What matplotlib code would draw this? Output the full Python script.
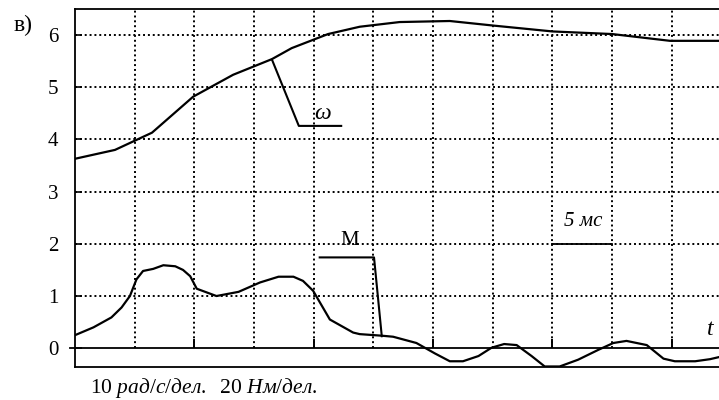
import matplotlib
matplotlib.use("Agg")
import matplotlib.pyplot as plt

plt.rcParams['font.family'] = ['Liberation Serif', 'DejaVu Serif']
plt.rcParams['mathtext.fontset'] = 'custom'
plt.rcParams['mathtext.rm'] = 'Liberation Serif'
plt.rcParams['mathtext.it'] = 'Liberation Serif:italic'

# speed omega, in divisions (10 rad/s per division), time in divisions (5 ms)
w_t = [0.0, 0.67, 1.29, 1.98, 2.65, 3.30, 3.63, 4.24, 4.77, 5.44, 6.28,
       7.03, 8.0, 9.0, 9.97, 10.79]
w_val = [3.63, 3.80, 4.13, 4.82, 5.24, 5.54, 5.75, 6.02, 6.16, 6.25, 6.27,
         6.18, 6.07, 6.02, 5.89, 5.89]

# torque M, in divisions (20 Nm per division)
m_t = [0.0, 0.31, 0.61, 0.78, 0.92, 1.03, 1.14, 1.31, 1.48, 1.68, 1.81, 1.93,
       2.04, 2.37, 2.74, 3.10, 3.41, 3.66, 3.82, 3.99, 4.27, 4.66, 4.77, 5.14,
       5.33, 5.72, 6.03, 6.28, 6.50, 6.76, 6.98, 7.19, 7.40, 7.65, 7.87, 8.12,
       8.43, 8.77, 9.02, 9.24, 9.58, 9.86, 10.05, 10.39, 10.64, 10.79]
m_val = [0.25, 0.40, 0.59, 0.78, 1.0, 1.32, 1.48, 1.52, 1.59, 1.57, 1.50, 1.38,
         1.14, 1.0, 1.08, 1.26, 1.37, 1.37, 1.29, 1.10, 0.55, 0.30, 0.27, 0.24,
         0.22, 0.10, -0.10, -0.25, -0.25, -0.15, 0.01, 0.08, 0.06, -0.15, -0.35,
         -0.35, -0.22, -0.03, 0.10, 0.14, 0.06, -0.20, -0.25, -0.25, -0.21, -0.17]

y_ticks = [0, 1, 2, 3, 4, 5, 6]
grid_x = [1, 2, 3, 4, 5, 6, 7, 8, 9, 10]
t_marks = [2, 4, 6, 8, 10]

X_MAX = 10.79

fig = plt.figure(figsize=(7.19, 4.0), dpi=100)
ax = fig.add_axes([75 / 719, (400 - 367) / 400, 1 - 75 / 719, (367 - 9) / 400])
ax.set_xlim(0, X_MAX)
ax.set_ylim(-0.36, 6.5)

dots = (0, (1.0, 1.5))
ax.hlines(y_ticks[1:], 0, X_MAX, colors='k', linestyles=dots, lw=1.4)
ax.vlines(grid_x, 0, 6.5, colors='k', linestyles=dots, lw=1.4)

# time axis with marks every 2 divisions
ax.plot([-0.09, X_MAX], [0, 0], color='k', lw=1.3, clip_on=False)
ax.vlines(t_marks, 0, 0.17, colors='k', lw=1.4)

ax.plot(w_t, w_val, color='k', lw=1.6)
ax.plot(m_t, m_val, color='k', lw=1.6)

# leaders
ax.plot([3.30, 3.75, 4.46], [5.53, 4.26, 4.26], color='k', lw=1.5)
ax.text(4.15, 4.50, r'$\omega$', ha='center', va='center', fontsize=17)
ax.plot([4.10, 5.01, 5.14], [1.74, 1.74, 0.23], color='k', lw=1.5)
ax.text(4.61, 2.07, 'M', ha='center', va='center', fontsize=15)

# 5 ms scale mark
ax.plot([8, 9], [2, 2], color='k', lw=1.3)
ax.text(8.51, 2.42, '5 мс', ha='center', va='center', fontsize=15, style='italic')
ax.text(10.64, 0.36, 't', ha='center', va='center', fontsize=17, style='italic')

ax.set_yticks(y_ticks)
ax.set_xticks([])
ax.tick_params(axis='y', direction='in', length=5, width=1.2, pad=12, labelsize=15)
ax.spines['right'].set_visible(False)
for s in ['left', 'top', 'bottom']:
    ax.spines[s].set_linewidth(1.3)

fig.text(23 / 719, 1 - 25 / 400, 'в)', ha='center', va='center', fontsize=17)
fig.text(90 / 719, 1 - 388 / 400, r'10 $\mathit{рад/с/дел.}$  20 $\mathit{Нм/дел.}$',
         ha='left', va='center', fontsize=15.5)

fig.savefig('out.png', dpi=100)
